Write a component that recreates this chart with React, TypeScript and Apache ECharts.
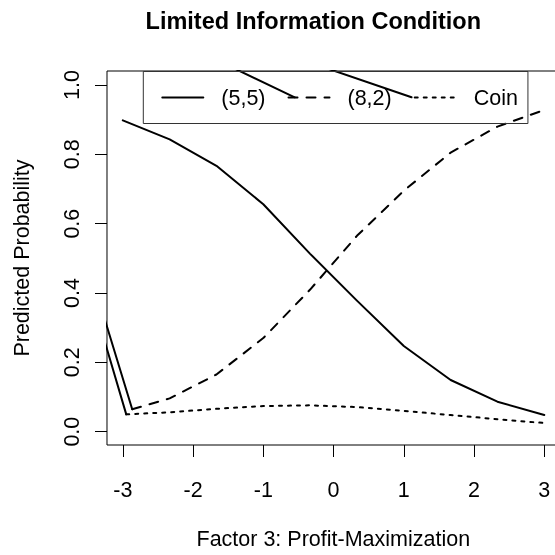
import React, { useEffect, useRef } from 'react';
import * as echarts from 'echarts';

const FONT = '"Liberation Sans", Arial, Helvetica, sans-serif';

const xTicks = [-3, -2, -1, 0, 1, 2, 3];
const yTicks = [0, 0.2, 0.4, 0.6, 0.8, 1.0];

const fiveFiveX = [-3, -2.333, -1.667, -1, -0.333, 0.333, 1, 1.667, 2.333, 3];
const fiveFiveY = [0.898, 0.843, 0.767, 0.656, 0.513, 0.378, 0.247, 0.149, 0.0865, 0.048];

const eightTwoX = [-2.866, -2.333, -1.667, -1, -0.333, 0.333, 1, 1.667, 2.333, 3];
const eightTwoY = [0.0646, 0.096, 0.165, 0.27, 0.41, 0.565, 0.695, 0.805, 0.88, 0.928];

const coinX = [-2.951, -2.333, -1.667, -1, -0.333, 0.333, 1, 1.667, 2.333, 3];
const coinY = [0.05, 0.056, 0.066, 0.074, 0.076, 0.071, 0.06, 0.048, 0.036, 0.025];

// stray solid segments visible in the reference (partly outside the plot region)
const strayA = [[-3.4, 0.419], [-2.866, 0.0646]];
const strayB = [[-3.4, 0.358], [-2.951, 0.05]];
const strayC = [[-1.953, 1.1], [-0.553, 0.9645]];
const strayD = [[-0.841, 1.1], [1.11, 0.9645]];

const zip = (xs: number[], ys: number[]) => xs.map((x, i) => [x, ys[i]]);

export default function App() {
  const ref = useRef<HTMLDivElement>(null);
  useEffect(() => {
    const chart = echarts.init(ref.current!, null, { renderer: 'svg' });
    const solid = { color: '#000', width: 2, type: 'solid', cap: 'round', join: 'round' };
    const hiddenItem = { color: '#000', opacity: 0 };
    const stray = (name: string, data: number[][]) => ({
      name, type: 'line', data, symbol: 'none', clip: true, silent: true,
      lineStyle: solid, itemStyle: hiddenItem, z: 2,
    });
    chart.setOption({
      animation: false,
      textStyle: { fontFamily: FONT },
      graphic: [
        {
          type: 'text', x: 313.3, y: 20.5,
          style: {
            text: 'Limited Information Condition', fontFamily: FONT, fontSize: 23.5,
            fontWeight: 'bold', fill: '#000', align: 'center', verticalAlign: 'middle',
          },
        },
      ],
      grid: {
        left: 107, right: -4.6, top: 71, bottom: 110,
        show: true, borderColor: '#000', borderWidth: 1, backgroundColor: 'transparent',
        containLabel: false, outerBoundsMode: 'none',
      },
      legend: {
        data: ['(5,5)', '(8,2)', 'Coin'],
        left: 143.3, top: 71.5,
        orient: 'horizontal',
        itemWidth: 41, itemHeight: 14, itemGap: 22,
        padding: [15, 10, 15, 18],
        borderColor: '#333', borderWidth: 1,
        itemStyle: { opacity: 0 },
        textStyle: { fontFamily: FONT, fontSize: 21.5, color: '#000', padding: [0, 0, 0, 13] },
        selectedMode: false,
      },
      xAxis: {
        type: 'value', min: -3.225, max: 3.218,
        name: 'Factor 3: Profit-Maximization', nameLocation: 'middle', nameGap: 83,
        nameTextStyle: { fontFamily: FONT, fontSize: 21.5, color: '#000' },
        axisLine: { show: false, onZero: false },
        splitLine: { show: false },
        axisTick: { show: true, inside: false, length: 12, lineStyle: { color: '#000', width: 1 }, customValues: xTicks },
        axisLabel: {
          customValues: xTicks, margin: 34, fontFamily: FONT, fontSize: 21.5, color: '#000',
          formatter: (v: number) => String(v),
        },
      },
      yAxis: {
        type: 'value', min: -0.0384, max: 1.0404,
        name: 'Predicted Probability', nameLocation: 'middle', nameGap: 74,
        nameTextStyle: { fontFamily: FONT, fontSize: 21.5, color: '#000' },
        axisLine: { show: false, onZero: false },
        splitLine: { show: false },
        axisTick: { show: true, inside: false, length: 12, lineStyle: { color: '#000', width: 1 }, customValues: yTicks },
        axisLabel: {
          customValues: yTicks, rotate: 90, margin: 24, fontFamily: FONT, fontSize: 21.5, color: '#000',
          formatter: (v: number) => v.toFixed(1),
        },
      },
      series: [
        {
          name: '(5,5)', type: 'line', data: zip(fiveFiveX, fiveFiveY), symbol: 'none', clip: true,
          lineStyle: solid, itemStyle: hiddenItem,
        },
        {
          name: '(8,2)', type: 'line', data: zip(eightTwoX, eightTwoY), symbol: 'none', clip: true,
          lineStyle: { color: '#000', width: 2, type: [9, 9], cap: 'round', join: 'round' },
          itemStyle: hiddenItem,
        },
        {
          name: 'Coin', type: 'line', data: zip(coinX, coinY), symbol: 'none', clip: true,
          lineStyle: { color: '#000', width: 2, type: [3, 6], cap: 'round', join: 'round' },
          itemStyle: hiddenItem,
        },
        stray('sa', strayA),
        stray('sb', strayB),
        stray('sc', strayC),
        stray('sd', strayD),
      ],
    });
    return () => chart.dispose();
  }, []);
  return <div ref={ref} style={{ position: 'fixed', left: 0, top: 0, width: 555, height: 555 }} />;
}
